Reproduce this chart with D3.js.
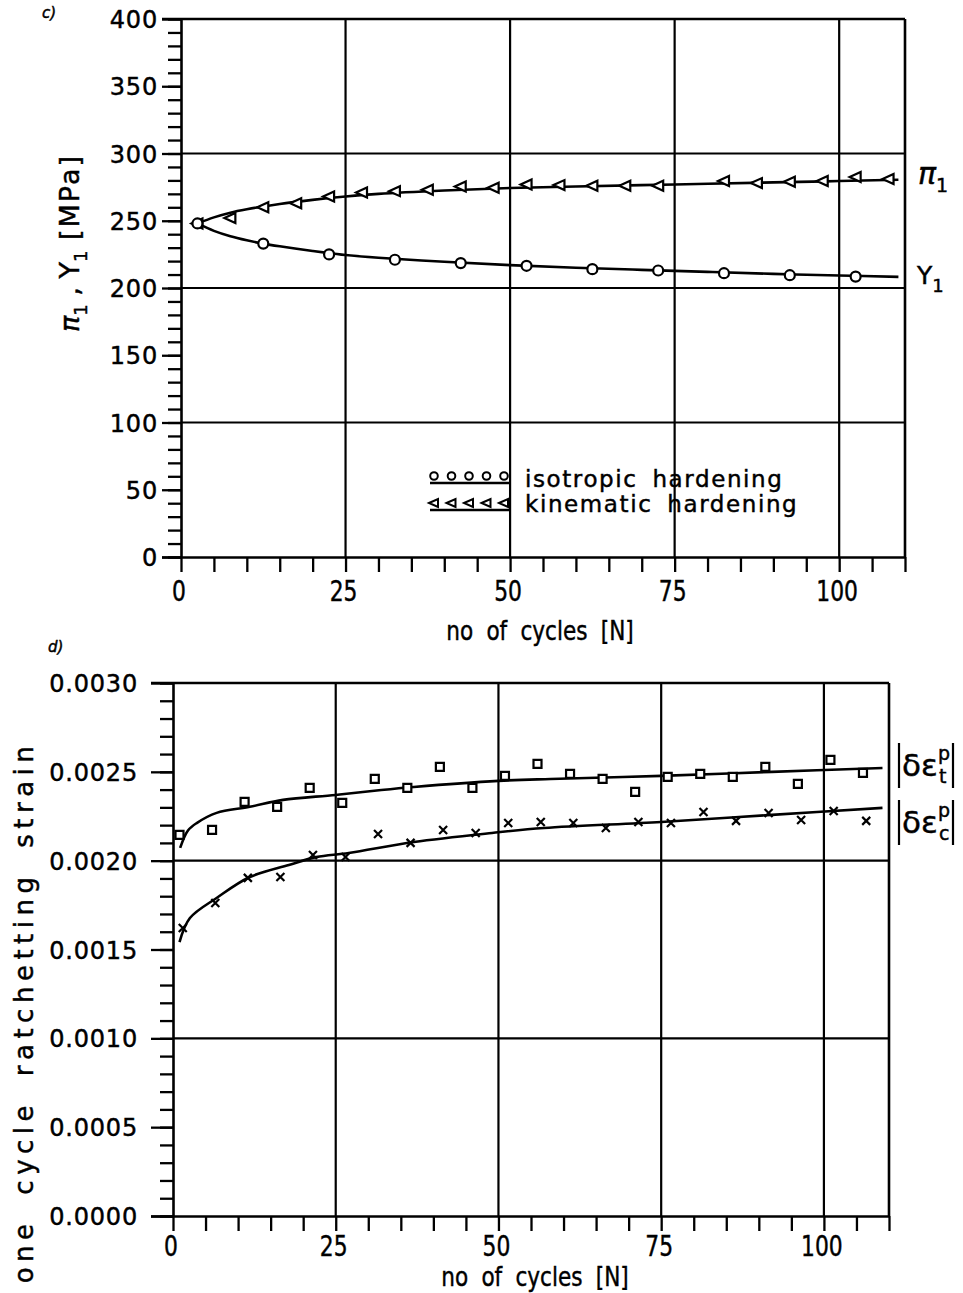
<!DOCTYPE html>
<html>
<head>
<meta charset="utf-8">
<script src="https://cdn.jsdelivr.net/npm/d3@7"></script>
<style>
  body { margin: 0; background: #fff; }
  svg text { fill: #000; stroke: #000; stroke-width: 0.45px; }
  .wide { font-family: "DejaVu Sans", sans-serif; }
  .narrow { font-family: "DejaVu Sans", sans-serif; }
</style>
</head>
<body>
<svg id="chart" width="963" height="1293"></svg>
<script>
// ================================================================================================================
// Data
// ================================================================================================================
const cycleTicks = [0, 25, 50, 75, 100];

// panel c) - stresses [MPa]
const stressTicks = [0, 50, 100, 150, 200, 250, 300, 350, 400];
const stressGrid = [100, 200, 300];

// isotropic hardening Y1 (circles)
const isoN = [2.5, 12.5, 22.5, 32.5, 42.5, 52.5, 62.5, 72.5, 82.5, 92.5, 102.5];
const isoY = [248, 233, 225, 221, 218.5, 216.5, 214, 213, 211, 209.5, 208.5];

// kinematic hardening pi1 (left triangles)
const kinN = [2.5, 7.5, 12.5, 17.5, 22.5, 27.5, 32.5, 37.5, 42.5, 47.5, 52.5, 57.5, 62.5, 67.5, 72.5,
  82.5, 87.5, 92.5, 97.5, 102.5, 107.5];
const kinPi = [248, 252, 260, 263, 268, 271, 272, 273, 275.5, 274.5, 277, 276.5, 276, 276, 276,
  279.5, 278, 279, 279.5, 282.5, 281];

// fitted curves
const yCurveN = [2.5, 5, 7.5, 10, 12.5, 15, 20, 25, 30, 40, 50, 60, 70, 80, 90, 100, 109];
const yCurveVal = [248, 242.5, 238.5, 235.5, 233, 231, 227.5, 224.5, 222.5, 219.5, 217, 215, 213.5, 212, 210.5, 209.3, 208.3];
const piCurveN = [2.5, 5, 7.5, 10, 15, 20, 25, 30, 40, 50, 60, 75, 90, 100, 109];
const piCurveVal = [248, 252.5, 256, 258.5, 262.5, 265.5, 268, 270, 272.5, 274.3, 275.5, 277, 278.5, 279.5, 280.5];

// panel d) - one cycle ratchetting strain
const strainTicks = [0, 0.0005, 0.0010, 0.0015, 0.0020, 0.0025, 0.0030];
const strainGrid = [0.0010, 0.0020];

// |d eps_t^p| (squares)
const tensN = [1, 6, 11, 16, 21, 26, 31, 36, 41, 46, 51, 56, 61, 66, 71, 76, 81, 86, 91, 96, 101, 106];
const tensVal = [0.002145, 0.002173, 0.002331, 0.002303, 0.00241, 0.002325, 0.00246, 0.00241, 0.002528, 0.00241,
  0.002477, 0.002545, 0.002489, 0.00246, 0.002387, 0.002472, 0.002489, 0.002472, 0.002528, 0.002432,
  0.002567, 0.002494];

// |d eps_c^p| (crosses)
const compN = [1.5, 6.5, 11.5, 16.5, 21.5, 26.5, 31.5, 36.5, 41.5, 46.5, 51.5, 56.5, 61.5, 66.5, 71.5,
  76.5, 81.5, 86.5, 91.5, 96.5, 101.5, 106.5];
const compVal = [0.001621, 0.001762, 0.001903, 0.001908, 0.002032, 0.002021, 0.00215, 0.0021, 0.002173, 0.002156,
  0.002212, 0.002218, 0.002212, 0.002184, 0.002218, 0.002212, 0.002274, 0.002224, 0.002268, 0.002229,
  0.00228, 0.002224];

// fitted curves
const tCurveN = [1.1, 2.3, 3.7, 6.7, 11.8, 16.9, 25, 32, 37, 50, 58, 75, 92, 109];
const tCurveVal = [0.002072, 0.00217, 0.002213, 0.002269, 0.002303, 0.002342, 0.00237, 0.002398, 0.002415,
  0.002449, 0.00246, 0.002477, 0.0025, 0.002522];
const cCurveN = [1, 2.6, 6.7, 11.8, 17.8, 22, 27, 37, 49, 57, 75, 92, 109];
const cCurveVal = [0.001542, 0.001677, 0.00179, 0.001908, 0.001976, 0.00202, 0.002043, 0.002105, 0.002156,
  0.002184, 0.002218, 0.002258, 0.002297];

// ================================================================================================================
// Helpers
// ================================================================================================================
const svg = d3.select('#chart');

function symbolPath(kind) {
  if (kind === 'triangle') return 'M-6,0L5,-5L5,5Z';
  if (kind === 'square') return 'M-4,-4H4V4H-4Z';
  return 'M-4,-4L4,4M4,-4L-4,4';
}

function drawMarkers(g, xs, ys, x, y, kind) {
  const pts = xs.map((n, i) => [n, ys[i]]);
  if (kind === 'circle') {
    g.selectAll(null).data(pts).join('circle')
      .attr('cx', (d) => x(d[0])).attr('cy', (d) => y(d[1])).attr('r', 5)
      .attr('fill', '#fff').attr('stroke', '#000').attr('stroke-width', 2.2);
  } else {
    g.selectAll(null).data(pts).join('path')
      .attr('transform', (d) => `translate(${x(d[0])},${y(d[1])})`)
      .attr('d', symbolPath(kind))
      .attr('fill', kind === 'cross' ? 'none' : '#fff')
      .attr('stroke', '#000').attr('stroke-width', 2.2);
  }
}

function drawCurve(g, xs, ys, x, y) {
  const line = d3.line().x((d) => x(d[0])).y((d) => y(d[1])).curve(d3.curveCatmullRom.alpha(0.5));
  g.append('path').datum(xs.map((n, i) => [n, ys[i]]))
    .attr('d', line).attr('fill', 'none').attr('stroke', '#000').attr('stroke-width', 2.6);
}

// condensed plotter-style text: squeeze horizontally
function narrowText(g, x, y, size, txt, sx = 0.8) {
  return g.append('text').attr('class', 'narrow').attr('font-size', size)
    .attr('text-anchor', 'middle')
    .attr('transform', `translate(${x},${y}) scale(${sx},1)`).text(txt);
}

function styleAxis(g) {
  g.select('.domain').attr('stroke-width', 2.6);
  g.selectAll('.tick line').attr('stroke-width', 2.3);
}

// frame, grid, ticks for one panel
function drawFrame(g, x, y, opt) {
  const [x0, x1] = x.range();
  const [y0, y1] = y.range();

  // grid
  g.selectAll(null).data(opt.hGrid).join('line')
    .attr('x1', x0).attr('x2', x1).attr('y1', (d) => y(d)).attr('y2', (d) => y(d))
    .attr('stroke', '#000').attr('stroke-width', 2.2);
  g.selectAll(null).data(cycleTicks.slice(1)).join('line')
    .attr('x1', (d) => x(d)).attr('x2', (d) => x(d)).attr('y1', y0).attr('y2', y1)
    .attr('stroke', '#000').attr('stroke-width', 2.2);

  // top + right border
  g.append('line').attr('x1', x0 - opt.majorLen).attr('x2', x1).attr('y1', y1).attr('y2', y1)
    .attr('stroke', '#000').attr('stroke-width', 2.6);
  g.append('line').attr('x1', x1).attr('x2', x1).attr('y1', y1).attr('y2', y0)
    .attr('stroke', '#000').attr('stroke-width', 2.6);

  // y axis: minor ticks then major ticks with labels
  const yMinor = g.append('g').attr('transform', `translate(${x0},0)`)
    .call(d3.axisLeft(y).tickValues(opt.yMinor).tickSize(13).tickSizeOuter(0).tickFormat(''));
  styleAxis(yMinor);
  const yMajor = g.append('g').attr('transform', `translate(${x0},0)`)
    .call(d3.axisLeft(y).tickValues(opt.yMajor).tickSize(opt.majorLen).tickSizeOuter(0)
      .tickPadding(opt.labelPad).tickFormat(opt.yFormat));
  styleAxis(yMajor);
  yMajor.select('.domain').remove();
  yMajor.selectAll('.tick text').attr('class', 'wide').attr('fill', '#000')
    .attr('font-size', 24).attr('letter-spacing', 0.8).attr('dy', '0.36em');

  // x axis: minor ticks every 5 cycles
  const xMinor = g.append('g').attr('transform', `translate(0,${y0})`)
    .call(d3.axisBottom(x).tickValues(d3.range(0, 111, 5)).tickSize(15).tickSizeOuter(0).tickFormat(''));
  styleAxis(xMinor);
  xMinor.select('.domain').attr('d', `M${x0 - opt.majorLen},0.5H${x1}`);

  cycleTicks.forEach((d) => narrowText(g, x(d) - 2, y0 + opt.xLabelDy, 28, d, 0.78));

  narrowText(g, opt.titleX, y0 + opt.titleDy, 27, 'no of cycles [N]', 0.8)
    .attr('word-spacing', 8);
}

// ================================================================================================================
// Panel c)
// ================================================================================================================
const gc = svg.append('g');
const xc = d3.scaleLinear().domain([0, 110]).range([181, 905]);
const yc = d3.scaleLinear().domain([0, 400]).range([557, 19]);

drawFrame(gc, xc, yc, {
  hGrid: stressGrid,
  yMinor: d3.range(0, 401, 10),
  yMajor: stressTicks,
  yFormat: (d) => d,
  majorLen: 19,
  labelPad: 4,
  xLabelDy: 44,
  titleX: 540,
  titleDy: 83,
});

drawCurve(gc, piCurveN, piCurveVal, xc, yc);
drawCurve(gc, yCurveN, yCurveVal, xc, yc);
drawMarkers(gc, kinN, kinPi, xc, yc, 'triangle');
drawMarkers(gc, isoN, isoY, xc, yc, 'circle');

gc.append('text').attr('class', 'wide').attr('font-size', 15).attr('font-style', 'italic')
  .attr('x', 42).attr('y', 18).text('c)');

// curve labels
const piLab = gc.append('text').attr('class', 'wide').attr('font-size', 30).attr('font-style', 'italic')
  .attr('x', 918).attr('y', 184);
piLab.append('tspan').text('π');
piLab.append('tspan').attr('font-size', 19).attr('font-style', 'normal').attr('dy', 8).text('1');
const yLab = gc.append('text').attr('class', 'wide').attr('font-size', 25)
  .attr('x', 917).attr('y', 284);
yLab.append('tspan').text('Y');
yLab.append('tspan').attr('font-size', 18).attr('dy', 8).text('1');

// y title
const yTitle = gc.append('text').attr('class', 'wide').attr('font-size', 27)
  .attr('transform', 'translate(79,243) rotate(-90)').attr('text-anchor', 'middle');
yTitle.append('tspan').attr('font-style', 'italic').text('π');
yTitle.append('tspan').attr('font-size', 18).attr('dy', 8).text('1');
yTitle.append('tspan').attr('dy', -8).text(' , Y');
yTitle.append('tspan').attr('font-size', 18).attr('dy', 8).text('1');
yTitle.append('tspan').attr('dy', -8).attr('letter-spacing', 2).text(' [MPa]');

// legend
const leg = gc.append('g');
const legIso = [0, 1, 2, 3, 4].map((i) => 434 + i * 17.5);
leg.append('line').attr('x1', 430).attr('x2', 509).attr('y1', 483).attr('y2', 483)
  .attr('stroke', '#000').attr('stroke-width', 2.6);
leg.selectAll(null).data(legIso).join('circle')
  .attr('cx', (d) => d).attr('cy', 476).attr('r', 3.8)
  .attr('fill', '#fff').attr('stroke', '#000').attr('stroke-width', 2);
leg.append('line').attr('x1', 430).attr('x2', 509).attr('y1', 510).attr('y2', 510)
  .attr('stroke', '#000').attr('stroke-width', 2.6);
leg.selectAll(null).data(legIso).join('path')
  .attr('transform', (d) => `translate(${d},503)`).attr('d', 'M-5,0L4,-4L4,4Z')
  .attr('fill', '#fff').attr('stroke', '#000').attr('stroke-width', 2);
leg.append('text').attr('class', 'wide').attr('font-size', 23).attr('letter-spacing', 1.6)
  .attr('word-spacing', 6).attr('x', 525).attr('y', 487).text('isotropic hardening');
leg.append('text').attr('class', 'wide').attr('font-size', 23).attr('letter-spacing', 1.6)
  .attr('word-spacing', 6).attr('x', 525).attr('y', 512).text('kinematic hardening');

// ================================================================================================================
// Panel d)
// ================================================================================================================
const gd = svg.append('g');
const xd = d3.scaleLinear().domain([0, 110]).range([173, 889]);
const yd = d3.scaleLinear().domain([0, 0.003]).range([1216, 683]);

drawFrame(gd, xd, yd, {
  hGrid: strainGrid,
  yMinor: d3.range(0, 31).map((i) => i * 0.0001),
  yMajor: strainTicks,
  yFormat: d3.format('.4f'),
  majorLen: 22,
  labelPad: 13,
  xLabelDy: 40,
  titleX: 535,
  titleDy: 70,
});

drawCurve(gd, tCurveN, tCurveVal, xd, yd);
drawCurve(gd, cCurveN, cCurveVal, xd, yd);
drawMarkers(gd, tensN, tensVal, xd, yd, 'square');
drawMarkers(gd, compN, compVal, xd, yd, 'cross');

gd.append('text').attr('class', 'wide').attr('font-size', 15).attr('font-style', 'italic')
  .attr('x', 48).attr('y', 652).text('d)');

// |δε| labels
function epsLabel(y0, sub) {
  const g = gd.append('g').attr('transform', `translate(897,${y0})`);
  g.append('line').attr('x1', 2).attr('x2', 2).attr('y1', 0).attr('y2', 45)
    .attr('stroke', '#000').attr('stroke-width', 2.2);
  g.append('line').attr('x1', 56).attr('x2', 56).attr('y1', 0).attr('y2', 45)
    .attr('stroke', '#000').attr('stroke-width', 2.2);
  g.append('text').attr('class', 'wide').attr('font-size', 31).attr('x', 5).attr('y', 33).text('δε');
  g.append('text').attr('class', 'wide').attr('font-size', 19).attr('x', 41).attr('y', 17).text('p');
  g.append('text').attr('class', 'wide').attr('font-size', 19).attr('x', 42).attr('y', 40).text(sub);
}
epsLabel(743, 't');
epsLabel(800, 'c');

// y title
gd.append('text').attr('class', 'wide').attr('font-size', 26).attr('letter-spacing', 5.5)
  .attr('word-spacing', 10)
  .attr('transform', 'translate(33,1012) rotate(-90)').attr('text-anchor', 'middle')
  .text('one cycle ratchetting strain');
</script>
</body>
</html>
